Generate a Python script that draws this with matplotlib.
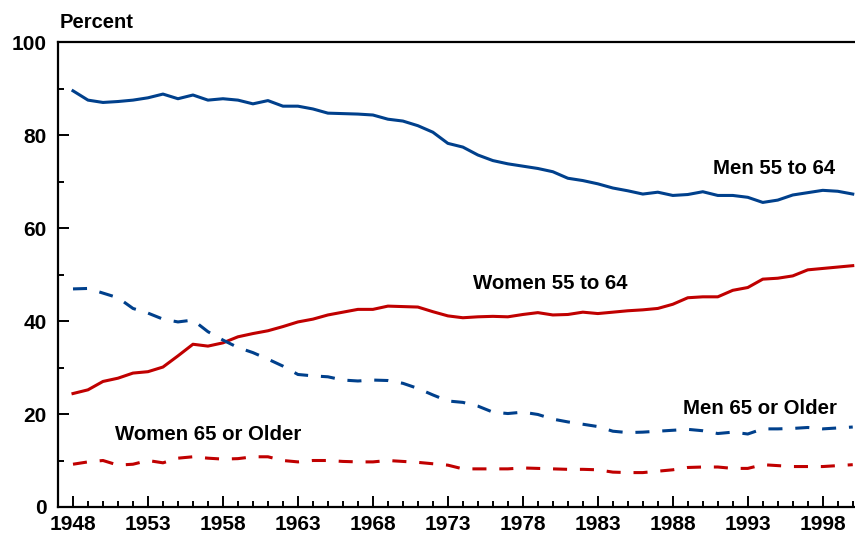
import numpy as np
import matplotlib.pyplot as plt
from matplotlib.ticker import MultipleLocator

plt.rcParams['font.family'] = ['Liberation Sans', 'DejaVu Sans']
plt.rcParams['font.weight'] = 'bold'

years = np.arange(1948, 2001)

# labor force participation, percent
men_55_64 = [89.5, 87.5, 87.0, 87.2, 87.5, 88.0, 88.8, 87.8, 88.6, 87.5,
             87.8, 87.5, 86.7, 87.4, 86.2, 86.2, 85.6, 84.7, 84.6, 84.5,
             84.3, 83.4, 83.0, 82.0, 80.6, 78.2, 77.4, 75.7, 74.5, 73.8,
             73.3, 72.8, 72.1, 70.7, 70.2, 69.5, 68.6, 68.0, 67.3, 67.7,
             67.0, 67.2, 67.8, 67.0, 67.0, 66.6, 65.5, 66.0, 67.1, 67.6,
             68.1, 67.9, 67.3]
women_55_64 = [24.4, 25.2, 27.0, 27.7, 28.8, 29.1, 30.1, 32.5, 35.0, 34.6,
               35.3, 36.6, 37.3, 37.9, 38.8, 39.8, 40.4, 41.3, 41.9, 42.5,
               42.5, 43.2, 43.1, 43.0, 42.0, 41.1, 40.7, 40.9, 41.0, 40.9,
               41.4, 41.8, 41.3, 41.4, 41.9, 41.6, 41.9, 42.2, 42.4, 42.7,
               43.6, 45.0, 45.2, 45.2, 46.6, 47.2, 49.0, 49.2, 49.7, 51.0,
               51.3, 51.6, 51.9]
men_65_up = [46.9, 47.0, 46.0, 45.0, 42.7, 41.7, 40.4, 39.8, 40.2, 37.7,
             35.9, 34.3, 33.2, 31.8, 30.3, 28.5, 28.2, 28.0, 27.3, 27.1,
             27.3, 27.2, 26.6, 25.5, 24.1, 22.8, 22.5, 21.7, 20.4, 20.1,
             20.4, 19.9, 18.9, 18.3, 17.8, 17.3, 16.3, 16.0, 16.1, 16.3,
             16.5, 16.7, 16.4, 15.8, 16.1, 15.7, 16.8, 16.8, 16.9, 17.1,
             16.8, 17.0, 17.2]
women_65_up = [9.2, 9.7, 10.0, 9.0, 9.2, 10.0, 9.5, 10.5, 10.8, 10.5,
               10.3, 10.4, 10.8, 10.8, 10.0, 9.7, 10.0, 10.0, 9.8, 9.7,
               9.7, 10.0, 9.8, 9.6, 9.3, 9.0, 8.2, 8.2, 8.2, 8.2,
               8.4, 8.3, 8.2, 8.1, 8.1, 8.0, 7.5, 7.4, 7.4, 7.7,
               8.0, 8.5, 8.6, 8.6, 8.3, 8.3, 9.1, 8.9, 8.7, 8.7,
               8.7, 8.9, 9.1]

blue = '#00408c'
red = '#c00000'

fig = plt.figure(figsize=(8.55, 5.36), dpi=100)
ax = fig.add_axes([58/855, 1 - 507/536, 1 - 58/855, (507 - 42)/536])

lw = 2.2
ax.plot(years, men_55_64, color=blue, lw=lw)
ax.plot(years, women_55_64, color=red, lw=lw)
l1, = ax.plot(years, men_65_up, color=blue, lw=lw)
l2, = ax.plot(years, women_65_up, color=red, lw=lw)
for l in (l1, l2):
    l.set_dashes((4.6, 4.2))

ax.set_xlim(1947.0, 2000.15)
ax.set_ylim(0, 100)
ax.xaxis.set_minor_locator(MultipleLocator(1))
ax.set_xticks(np.arange(1948, 2000, 5))
ax.yaxis.set_major_locator(MultipleLocator(20))
ax.yaxis.set_minor_locator(MultipleLocator(10))

ax.spines['right'].set_visible(False)
for s in ('left', 'bottom', 'top'):
    ax.spines[s].set_linewidth(1.6)
ax.tick_params(which='major', direction='in', length=8, width=1.4,
               labelsize=15, top=False, right=False)
ax.tick_params(which='minor', direction='in', length=4, width=1.4,
               top=False, right=False)
ax.tick_params(axis='y', pad=8)
ax.tick_params(axis='x', pad=6)
for lab in ax.get_xticklabels() + ax.get_yticklabels():
    lab.set_fontweight('bold')

fs = 14.7
ax.text(1994.75, 72.9, 'Men 55 to 64', ha='center', va='center', fontsize=fs, fontweight='bold')
ax.text(1979.8, 48.0, 'Women 55 to 64', ha='center', va='center', fontsize=fs, fontweight='bold')
ax.text(1993.8, 21.1, 'Men 65 or Older', ha='center', va='center', fontsize=fs, fontweight='bold')
ax.text(1957.0, 15.5, 'Women 65 or Older', ha='center', va='center', fontsize=fs, fontweight='bold')

fig.text(60/855, 1 - 22/536, 'Percent', ha='left', va='center', fontsize=14.5, fontweight='bold')

fig.savefig('out.png', dpi=100)
